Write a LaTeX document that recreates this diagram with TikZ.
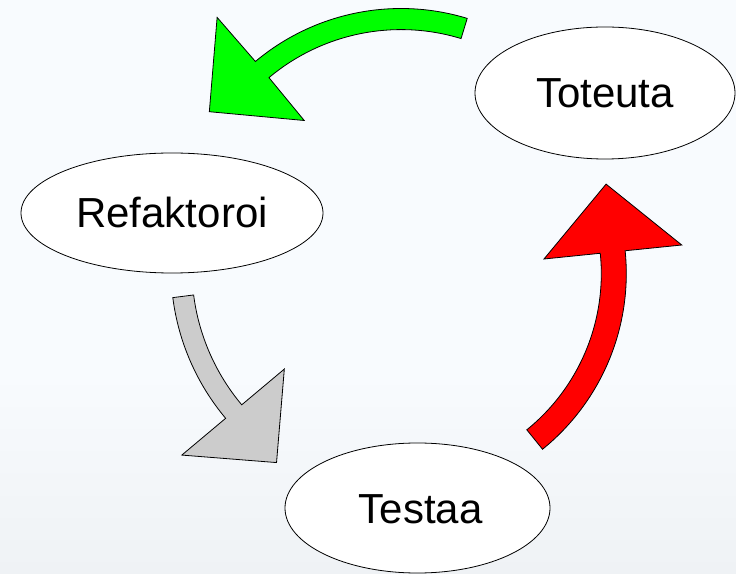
\documentclass[tikz,border=0pt]{standalone}
\usepackage{fontspec}
\setmainfont{Liberation Sans}
\usetikzlibrary{shapes.geometric}
\definecolor{bgtop}{RGB}{248,251,254}
\definecolor{bgbot}{RGB}{239,242,245}
\definecolor{arrgreen}{RGB}{0,255,0}
\definecolor{arrred}{RGB}{255,0,0}
\definecolor{arrgray}{RGB}{204,204,204}
\begin{document}
\begin{tikzpicture}[x=1pt,y=1pt,
  blockarrow/.style={draw=black, line width=0.8pt, line join=miter},
  stage/.style={ellipse, draw=black, line width=0.8pt, fill=white, inner sep=0pt,
    text height=30pt, text depth=0pt, font=\fontsize{42}{50}\selectfont}]
\useasboundingbox (0,0) rectangle (736,573);
\fill[bgtop] (0,0) rectangle (736,573);
\shade[bottom color=bgbot, top color=bgtop] (0,0) rectangle (736,200);

% green arrow: Toteuta -> Refaktoroi
\begin{scope}[shift={(401,338)}]
\draw[blockarrow, fill=arrgreen] (73:226.5) arc[start angle=73, end angle=130, radius=226.5]
  -- (130.2:284.9) -- (147.25:227.9) -- (130.2:149.9) -- (130:205.4)
  arc[start angle=130, end angle=73, radius=205.4] -- cycle;
\end{scope}

% red arrow: Testaa -> Toteuta
\begin{scope}[shift={(400.3,299.4)}]
\draw[blockarrow, fill=arrred] (-51:226) arc[start angle=-51, end angle=5.8, radius=226]
  -- (5.8:282.9) -- (23.5:224.4) -- (5.8:144.4) -- (5.8:201)
  arc[start angle=5.8, end angle=-51, radius=201] -- cycle;
\end{scope}

% gray arrow: Refaktoroi -> Testaa
\begin{scope}[shift={(404.9,305.1)}]
\draw[blockarrow, fill=arrgray] (187.3:234) arc[start angle=187.3, end angle=220, radius=234]
  -- (220:291.2) -- (236.6:233.2) -- (220:157.4) -- (220:213)
  arc[start angle=220, end angle=187.3, radius=213] -- cycle;
\end{scope}

\node[stage, minimum width=260pt, minimum height=132pt] (tot) at (605,480) {Toteuta};
\node[stage, minimum width=302pt, minimum height=120pt] (ref) at (172,360) {Refaktoroi};
\node[stage, minimum width=265pt, minimum height=130pt] (tes) at (417.5,65) {\hspace*{6pt}Testaa};
\end{tikzpicture}
\end{document}
